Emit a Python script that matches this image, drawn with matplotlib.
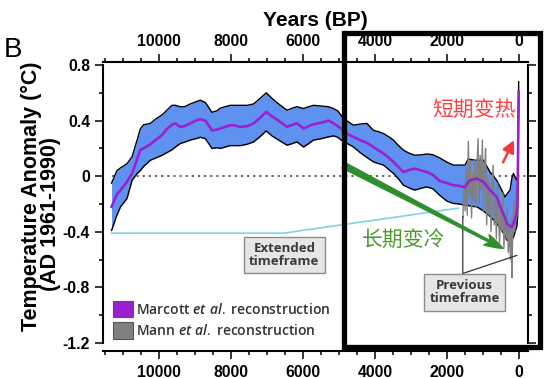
import matplotlib
matplotlib.use("Agg")
import matplotlib.pyplot as plt
from matplotlib.patches import Patch, Rectangle
from matplotlib.ticker import MultipleLocator

# Marcott et al. reconstruction (years BP, anomaly in degC)
marcott_years = [11330, 11180, 11080, 10900, 10760, 10620, 10530, 10440, 10250, 10110,
                 9930, 9790, 9650, 9555, 9420, 9300, 9140, 8990, 8860, 8720,
                 8540, 8400, 8306, 8030, 7935, 7750, 7560, 7380, 7200, 7030,
                 6870, 6685, 6450, 6300, 6175, 5990, 5850, 5713, 5500, 5300,
                 5150, 5040, 4880, 4740, 4602, 4420, 4231, 4047, 3900, 3769,
                 3630, 3491, 3350, 3213, 3050, 2900, 2700, 2564, 2400, 2194,
                 2000, 1824, 1650, 1500, 1410, 1361, 1175, 991, 806, 620,
                 481, 389, 342, 250, 203, 157, 64, 40, 10]
marcott_temp = [-0.22, -0.13, -0.10, -0.04, 0.02, 0.12, 0.19, 0.20, 0.23, 0.26,
                0.295, 0.34, 0.37, 0.38, 0.355, 0.36, 0.38, 0.40, 0.41, 0.40,
                0.33, 0.335, 0.343, 0.367, 0.367, 0.355, 0.36, 0.38, 0.42, 0.463,
                0.43, 0.40, 0.355, 0.37, 0.38, 0.343, 0.36, 0.374, 0.385, 0.40,
                0.38, 0.36, 0.33, 0.30, 0.283, 0.26, 0.24, 0.21, 0.185, 0.163,
                0.135, 0.103, 0.065, 0.03, 0.045, 0.055, 0.04, 0.03, 0.01, -0.035,
                -0.05, -0.065, -0.07, -0.08, -0.04, -0.03, -0.017, -0.04, -0.10, -0.15,
                -0.245, -0.30, -0.34, -0.36, -0.365, -0.34, -0.27, -0.17, 0.61]
marcott_upper = [-0.05, 0.04, 0.06, 0.09, 0.14, 0.26, 0.34, 0.37, 0.38, 0.41,
                 0.44, 0.475, 0.51, 0.51, 0.50, 0.50, 0.52, 0.535, 0.547, 0.53,
                 0.46, 0.47, 0.49, 0.51, 0.51, 0.51, 0.51, 0.52, 0.56, 0.60,
                 0.56, 0.52, 0.475, 0.49, 0.50, 0.487, 0.50, 0.51, 0.505, 0.50,
                 0.485, 0.47, 0.415, 0.39, 0.367, 0.375, 0.38, 0.33, 0.32, 0.307,
                 0.285, 0.26, 0.22, 0.187, 0.165, 0.151, 0.155, 0.16, 0.155, 0.13,
                 0.10, 0.08, 0.08, 0.08, 0.127, 0.12, 0.115, 0.115, 0.03, -0.03,
                 -0.10, -0.15, -0.13, -0.10, -0.02, 0.02, -0.03, 0.0, 0.68]
marcott_lower = [-0.39, -0.28, -0.22, -0.16, -0.03, 0.02, 0.04, 0.07, 0.115, 0.13,
                 0.15, 0.17, 0.19, 0.21, 0.235, 0.245, 0.26, 0.27, 0.28, 0.27,
                 0.20, 0.205, 0.20, 0.22, 0.22, 0.22, 0.23, 0.247, 0.285, 0.326,
                 0.29, 0.26, 0.223, 0.235, 0.247, 0.21, 0.235, 0.26, 0.27, 0.283,
                 0.29, 0.28, 0.247, 0.23, 0.21, 0.17, 0.135, 0.103, 0.09, 0.08,
                 0.05, 0.02, -0.02, -0.065, -0.085, -0.10, -0.085, -0.077, -0.09, -0.14,
                 -0.18, -0.196, -0.20, -0.21, -0.21, -0.215, -0.22, -0.25, -0.29, -0.34,
                 -0.39, -0.43, -0.46, -0.46, -0.46, -0.44, -0.365, -0.30, 0.55]

# Mann et al. reconstruction
mann_years = [1560, 1530, 1500, 1470, 1440, 1410, 1380, 1350, 1320, 1290,
              1260, 1230, 1200, 1170, 1140, 1110, 1080, 1050, 1020, 990,
              960, 930, 900, 870, 840, 810, 780, 750, 720, 690,
              660, 630, 600, 570, 540, 510, 480, 450, 420, 390,
              360, 330, 300, 270, 240, 210, 195, 180, 150, 120,
              90, 60, 30]
mann_temp = [-0.30, -0.05, -0.25, 0.05, -0.28, 0.25, -0.15, 0.10, -0.30, 0.02,
             -0.18, 0.12, -0.22, 0.05, 0.27, -0.20, 0.15, -0.10, 0.26, -0.25,
             0.05, 0.20, -0.35, 0.0, -0.28, -0.05, -0.40, -0.10, 0.08, -0.35,
             -0.15, -0.45, -0.05, -0.30, -0.48, -0.20, -0.40, -0.12, -0.52, -0.28,
             -0.45, -0.22, -0.55, -0.35, -0.60, -0.30, -0.73, -0.48, -0.18, -0.40,
             -0.10, -0.30, -0.05]

# annotation guides
extended_x = [11330, 6555, 1694]
extended_y = [-0.41, -0.41, -0.23]
previous_x = [1564, 1564, 64]
previous_y = [-0.29, -0.70, -0.57]

PURPLE = '#9b20d0'
BLUE = '#5f92f0'
GRAY = '#808080'

plt.rcParams['font.family'] = ['Liberation Sans', 'DejaVu Sans']
plt.rcParams['mathtext.fontset'] = 'custom'
plt.rcParams['mathtext.rm'] = 'Open Sans'
plt.rcParams['mathtext.it'] = 'Open Sans:italic:semibold'

fig = plt.figure(figsize=(5.47, 3.78), dpi=100)
ax = fig.add_axes([0.1888, 0.0926, 0.7756, 0.7354])

ax.fill_between(marcott_years, marcott_lower, marcott_upper, color=BLUE, lw=0, zorder=2)
ax.plot(marcott_years, marcott_upper, color='black', lw=1.0, zorder=3)
ax.plot(marcott_years, marcott_lower, color='black', lw=1.0, zorder=3)
ax.plot(mann_years, mann_temp, color=GRAY, lw=1.0, zorder=4)
ax.plot(marcott_years, marcott_temp, color=PURPLE, lw=1.9, zorder=5)

ax.set_xlim(11560, -236)
ax.set_ylim(-1.2, 0.8)
ax.hlines(0, 11330, -236, colors='#555555', linestyles=(0, (1.2, 2.2)), lw=1.3, zorder=1)

ax.plot(extended_x, extended_y, color='#7fd3e3', lw=1.2, zorder=1)
ax.plot(previous_x, previous_y, color='#333333', lw=0.9, zorder=6)

box = dict(boxstyle='square,pad=0.4', fc='#e6e6e6', ec='#8c8c8c', lw=1)
ax.text(6528, -0.568, 'Extended\ntimeframe', ha='center', va='center', family='Open Sans',
        fontsize=9.5, fontweight='bold', color='#3a3a3a', linespacing=1.0, bbox=box, zorder=7)
ax.text(1514, -0.835, 'Previous\ntimeframe', ha='center', va='center', family='Open Sans',
        fontsize=9.5, fontweight='bold', color='#3a3a3a', linespacing=1.0, bbox=box, zorder=7)

ax.annotate('', xy=(444, -0.52), xytext=(4889, 0.08),
            arrowprops=dict(arrowstyle='fancy,head_length=0.9,head_width=0.55,tail_width=0.3',
                            color='#2f8f2f', mutation_scale=15, shrinkA=0, shrinkB=0), zorder=6)
ax.annotate('', xy=(139, 0.26), xytext=(444, 0.10),
            arrowprops=dict(arrowstyle='-|>,head_length=0.6,head_width=0.3', color='#f03c3c',
                            lw=1.8, mutation_scale=12, shrinkA=0, shrinkB=0), zorder=6)

ax.text(3222, -0.46, '长期变冷', ha='center', va='center', color='#4b9a2a', fontsize=15,
        family=['Noto Sans CJK SC', 'DejaVu Sans'], zorder=7)
ax.text(1250, 0.475, '短期变热', ha='center', va='center', color='#ff4040', fontsize=15,
        family=['Noto Sans CJK SC', 'DejaVu Sans'], zorder=7)

handles = [Patch(facecolor=PURPLE, edgecolor='#555555', lw=0.8),
           Patch(facecolor=GRAY, edgecolor='#555555', lw=0.8)]
labels = ['Marcott $\\mathit{et\\ al.}$ reconstruction', 'Mann $\\mathit{et\\ al.}$ reconstruction']
leg = ax.legend(handles, labels, loc='lower left', bbox_to_anchor=(0.009, -0.005), frameon=False,
                handlelength=1.45, handleheight=1.45, handletextpad=0.2, labelspacing=0.35,
                borderaxespad=0, prop={'family': 'Open Sans', 'size': 10, 'weight': 'semibold'})
for t in leg.get_texts():
    t.set_color('#333333')

# axes styling
for s in ax.spines.values():
    s.set_linewidth(1.5)
ax.spines['bottom'].set_position(('outward', 6))
ax.spines['top'].set_position(('outward', 2))
ax.xaxis.set_major_locator(MultipleLocator(2000))
ax.xaxis.set_minor_locator(MultipleLocator(500))
ax.yaxis.set_major_locator(MultipleLocator(0.4))
ax.yaxis.set_minor_locator(MultipleLocator(0.2))
ax.set_yticks([0.8, 0.4, 0, -0.4, -0.8, -1.2])
ax.set_yticklabels(['0.8', '0.4', '0', '-0.4', '-0.8', '-1.2'])
ax.tick_params(axis='both', which='both', direction='out', width=1.1)
ax.tick_params(axis='x', which='both', top=True, bottom=True, labeltop=True, labelbottom=True)
ax.tick_params(axis='y', which='both', left=True, right=True, labelright=False)
ax.tick_params(which='major', length=5.5, labelsize=11.3, pad=4)
ax.tick_params(which='minor', length=3)
for lab in ax.get_xticklabels() + ax.get_yticklabels():
    lab.set_fontweight('bold')

ax.xaxis.set_label_position('top')
ax.set_xlabel('Years (BP)', fontsize=15, fontweight='bold', labelpad=6)

fig.text(31 / 547, 1 - 196 / 378, 'Temperature Anomaly (°C)', rotation=90, ha='center', va='center',
         fontsize=15.5, fontweight='bold')
fig.text(51 / 547, 1 - 214 / 378, '(AD 1961-1990)', rotation=90, ha='center', va='center',
         fontsize=15.5, fontweight='bold')
fig.text(13 / 547, 1 - 50 / 378, 'B', ha='center', va='center', fontsize=20)

fig.patches.append(Rectangle((343.5 / 547, 1 - 346.5 / 378), (540 - 343.5) / 547, (346.5 - 32.5) / 378,
                             transform=fig.transFigure, fill=False, ec='black', lw=3.8, zorder=10))

fig.savefig('out.png', dpi=100)
